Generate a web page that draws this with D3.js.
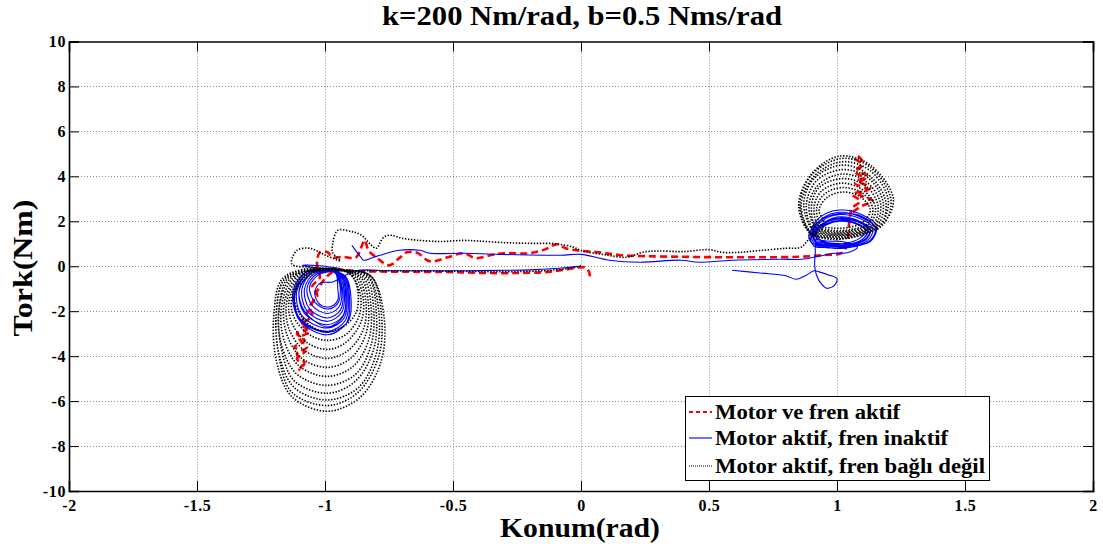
<!DOCTYPE html>
<html><head><meta charset="utf-8">
<script src="https://cdn.jsdelivr.net/npm/d3@7"></script>
<style>body{margin:0;background:#fff}svg{display:block}text{font-family:"Liberation Serif","Times New Roman",serif;font-weight:bold}</style>
</head><body>
<script>
const titleText = "k=200 Nm/rad, b=0.5 Nms/rad";
const xLabel = "Konum(rad)";
const yLabel = "Tork(Nm)";
const xTicks = [-2,-1.5,-1,-0.5,0,0.5,1,1.5,2];
const yTicks = [-10,-8,-6,-4,-2,0,2,4,6,8,10];
const legendLabels = ["Motor ve fren aktif","Motor aktif, fren inaktif","Motor aktif, fren bağlı değil"];

// Series 1: Motor ve fren aktif (red dashed)
const redPath = [
[0.035,-0.45],[0.03,-0.22],[0.015,-0.05],[-0.02,-0.08],[-0.08,-0.18],[-0.15,-0.27],[-0.25,-0.3],[-0.38,-0.3],[-0.5,-0.26],[-0.62,-0.25],[-0.75,-0.24],[-0.88,-0.22],[-0.96,-0.2],
[-1.0,-0.55],[-1.03,-1.1],[-1.06,-1.9],[-1.09,-2.5],[-1.07,-2.8],[-1.11,-3.0],[-1.08,-3.3],[-1.12,-3.6],[-1.08,-3.8],[-1.11,-4.1],[-1.09,-4.4],[-1.1,-4.6],[-1.08,-4.3],[-1.11,-3.9],[-1.07,-3.6],[-1.1,-3.2],[-1.06,-2.9],[-1.09,-2.6],[-1.05,-2.2],[-1.06,-1.8],[-1.03,-1.3],[-1.05,-0.9],[-1.02,-0.5],[-1.03,-0.1],
[-1.03,0.3],[-1.02,0.62],[-0.99,0.62],[-0.97,0.4],[-0.93,0.42],[-0.88,0.38],[-0.86,0.8],[-0.845,1.16],[-0.83,0.7],[-0.8,0.4],[-0.75,0.04],[-0.71,0.36],[-0.68,0.62],[-0.64,0.6],[-0.59,0.22],[-0.52,0.4],[-0.46,0.58],[-0.41,0.36],[-0.35,0.5],[-0.3,0.58],[-0.2,0.58],[-0.14,0.75],[-0.094,0.98],[-0.06,0.8],[-0.01,0.7],[0.07,0.62],[0.15,0.5],[0.25,0.45],[0.4,0.42],[0.55,0.4],[0.7,0.4],[0.85,0.42],[0.95,0.5],[1.02,0.6],
[1.04,1.0],[1.045,1.6],[1.05,2.2],[1.06,2.6],[1.09,2.9],[1.06,3.2],[1.12,3.4],[1.07,3.7],[1.11,3.9],[1.07,4.2],[1.1,4.5],[1.07,4.8],[1.08,4.9],[1.1,4.6],[1.08,4.3],[1.12,4.0],[1.08,3.8],[1.13,3.5],[1.09,3.2],[1.14,2.9],[1.1,2.7],[1.06,2.4]
];

// Series 2: Motor aktif, fren inaktif (blue solid)
const bluePath = [
[0.0,0.0],[-0.05,-0.05],[-0.1,-0.1],[-0.2,-0.16],[-0.3,-0.18],[-0.45,-0.2],[-0.6,-0.2],[-0.75,-0.2],[-0.88,-0.2],
[-0.97,-0.7],[-1.02,-0.75],[-1.04,-1.2],[-1.02,-1.7],[-0.98,-1.8],[-0.95,-1.5],[-0.95,-1.0],
[-0.96,-0.3],[-1.02,-0.35],[-1.06,-0.9],[-1.04,-1.6],[-0.99,-1.9],[-0.95,-1.65],[-0.94,-1.0],[-0.95,-0.5],
[-0.96,-0.28],[-1.03,-0.33],[-1.07,-0.95],[-1.05,-1.75],[-0.99,-2.1],[-0.945,-1.8],[-0.935,-1.05],[-0.95,-0.5],
[-0.96,-0.27],[-1.04,-0.32],[-1.08,-1.0],[-1.06,-1.9],[-0.99,-2.3],[-0.94,-1.95],[-0.93,-1.1],[-0.945,-0.5],
[-0.96,-0.26],[-1.05,-0.3],[-1.09,-1.0],[-1.07,-2.0],[-0.99,-2.45],[-0.935,-2.05],[-0.925,-1.1],[-0.94,-0.5],
[-0.96,-0.25],[-1.05,-0.28],[-1.1,-1.05],[-1.08,-2.1],[-0.99,-2.6],[-0.93,-2.2],[-0.92,-1.15],[-0.935,-0.5],
[-0.96,-0.24],[-1.06,-0.27],[-1.11,-1.1],[-1.09,-2.2],[-0.99,-2.75],[-0.925,-2.3],[-0.915,-1.2],[-0.93,-0.5],
[-0.96,-0.23],[-1.06,-0.26],[-1.115,-1.1],[-1.1,-2.3],[-0.99,-2.9],[-0.92,-2.4],[-0.91,-1.2],[-0.925,-0.5],
[-0.96,-0.22],[-1.07,-0.25],[-1.12,-1.15],[-1.1,-2.4],[-0.99,-3.05],[-0.915,-2.5],[-0.905,-1.25],[-0.92,-0.5],
[-0.96,-0.2],[-1.07,-0.22],[-1.125,-1.1],[-1.1,-2.35],[-0.99,-2.95],[-0.91,-2.45],[-0.9,-1.2],[-0.92,-0.45],
[-0.96,-0.24],[-1.05,-0.3],[-1.1,-1.0],[-1.08,-2.0],[-0.99,-2.7],[-0.93,-2.25],[-0.92,-1.1],[-0.935,-0.45],
[-0.95,-0.2],[-1.02,-0.1],[-1.09,0.04],[-1.02,0.02],[-0.94,-0.1],
null,
[-0.895,0.93],[-0.86,0.4],[-0.85,0.27],[-0.81,0.4],[-0.785,0.49],[-0.71,0.71],[-0.63,0.71],[-0.59,0.58],[-0.46,0.58],[-0.32,0.53],[-0.08,0.49],[0.0,0.53],[0.11,0.27],[0.23,0.18],[0.39,0.27],[0.46,0.18],[0.59,0.27],[0.78,0.31],[0.86,0.31],[0.93,0.45],[0.99,0.58],[1.04,0.6],[1.08,0.85],
[1.02,1.1],[0.96,1.12],[0.93,1.2],[0.92,1.5],[0.96,1.85],[1.01,2.0],[1.07,1.9],[1.11,1.6],[1.09,1.25],
[1.02,1.0],[0.96,1.02],[0.93,1.1],[0.915,1.45],[0.95,1.9],[1.01,2.1],[1.08,1.98],[1.12,1.65],[1.1,1.2],
[1.03,0.95],[0.96,0.97],[0.92,1.05],[0.91,1.45],[0.95,1.95],[1.01,2.2],[1.08,2.05],[1.13,1.65],[1.11,1.2],
[1.03,0.9],[0.96,0.92],[0.92,1.0],[0.905,1.45],[0.94,2.0],[1.01,2.3],[1.09,2.12],[1.14,1.7],[1.12,1.15],
[1.03,0.85],[0.96,0.88],[0.915,0.95],[0.9,1.45],[0.94,2.1],[1.01,2.4],[1.09,2.2],[1.15,1.75],[1.13,1.15],
[1.03,0.8],[0.96,0.83],[0.91,0.9],[0.895,1.45],[0.93,2.15],[1.01,2.5],[1.1,2.28],[1.155,1.8],[1.13,1.1],
[1.03,0.9],[0.96,0.95],[0.92,1.1],[0.91,1.5],[0.95,1.95],[1.01,2.15],[1.08,2.0],[1.13,1.6],[1.11,1.15],
[1.03,0.95],[0.96,1.0],[0.93,1.2],[0.92,1.6],[0.96,1.9],[1.01,2.05],[1.07,1.95],[1.12,1.55],[1.1,1.2],
[1.03,0.88],[0.96,0.9],[0.9,1.05],[0.89,1.4],[0.93,2.0],[1.01,2.35],[1.1,2.2],[1.15,1.7],[1.13,1.1],
[1.03,1.0],[0.96,1.05],[0.92,1.2],[0.915,0.6],[0.913,0.0],[0.92,-0.4],[0.94,-0.8],[0.96,-0.98],[0.99,-0.85],[1.0,-0.55],[0.97,-0.4],[0.93,-0.25],[0.91,-0.2],[0.88,-0.4],[0.84,-0.58],[0.8,-0.42],[0.7,-0.3],[0.59,-0.18]
];

// Series 3: Motor aktif, fren bağlı değil (black dotted)
const blackPath = [
[0.0,0.02],[-0.05,-0.1],[-0.15,-0.2],[-0.3,-0.24],[-0.5,-0.22],[-0.7,-0.2],[-0.85,-0.2],
[-0.93,-0.2],[-1.03,-0.22],[-1.08,-0.6],[-1.12,-1.3],[-1.1,-2.1],[-1.05,-2.7],[-0.99,-2.9],[-0.93,-2.7],[-0.88,-2.1],[-0.87,-1.3],[-0.89,-0.5],
[-0.93,-0.2],[-1.04,-0.22],[-1.09,-0.6],[-1.13,-1.4],[-1.12,-2.3],[-1.06,-3.05],[-0.99,-3.3],[-0.92,-3.05],[-0.87,-2.3],[-0.86,-1.4],[-0.89,-0.5],
[-0.93,-0.2],[-1.05,-0.22],[-1.1,-0.6],[-1.14,-1.5],[-1.13,-2.5],[-1.07,-3.4],[-0.99,-3.7],[-0.92,-3.4],[-0.86,-2.5],[-0.85,-1.5],[-0.88,-0.5],
[-0.93,-0.2],[-1.05,-0.22],[-1.11,-0.6],[-1.15,-1.6],[-1.14,-2.8],[-1.08,-3.75],[-0.99,-4.1],[-0.91,-3.75],[-0.85,-2.8],[-0.84,-1.6],[-0.87,-0.5],
[-0.93,-0.2],[-1.06,-0.2],[-1.12,-0.6],[-1.16,-1.7],[-1.15,-3.0],[-1.09,-4.1],[-0.99,-4.5],[-0.9,-4.1],[-0.84,-3.0],[-0.83,-1.7],[-0.86,-0.5],
[-0.93,-0.2],[-1.06,-0.2],[-1.13,-0.6],[-1.17,-1.8],[-1.16,-3.3],[-1.1,-4.45],[-0.99,-4.9],[-0.89,-4.45],[-0.83,-3.3],[-0.82,-1.8],[-0.85,-0.5],
[-0.93,-0.18],[-1.07,-0.2],[-1.14,-0.6],[-1.18,-1.9],[-1.17,-3.5],[-1.11,-4.8],[-0.99,-5.3],[-0.88,-4.8],[-0.82,-3.5],[-0.81,-1.9],[-0.84,-0.5],
[-0.93,-0.18],[-1.07,-0.18],[-1.15,-0.6],[-1.18,-2.0],[-1.17,-3.7],[-1.12,-5.1],[-0.99,-5.65],[-0.88,-5.1],[-0.81,-3.7],[-0.8,-2.0],[-0.83,-0.5],
[-0.93,-0.16],[-1.08,-0.18],[-1.16,-0.6],[-1.19,-2.0],[-1.18,-3.9],[-1.12,-5.4],[-0.99,-5.95],[-0.87,-5.4],[-0.8,-3.9],[-0.79,-2.0],[-0.83,-0.45],
[-0.93,-0.16],[-1.08,-0.16],[-1.16,-0.6],[-1.19,-2.1],[-1.18,-4.0],[-1.13,-5.6],[-0.99,-6.2],[-0.87,-5.6],[-0.79,-4.0],[-0.78,-2.1],[-0.82,-0.45],
[-0.93,-0.15],[-1.09,-0.15],[-1.17,-0.6],[-1.2,-2.2],[-1.19,-4.2],[-1.13,-5.8],[-0.99,-6.45],[-0.86,-5.8],[-0.78,-4.2],[-0.77,-2.2],[-0.82,-0.45],
[-0.93,-0.15],[-1.05,-0.05],[-1.13,0.1],[-1.11,0.7],[-1.06,0.8],[-1.0,0.5],[-0.94,0.25],[-0.97,0.6],[-0.97,1.0],[-0.95,1.6],[-0.9,1.55],[-0.86,1.4],[-0.82,0.95],[-0.8,0.8],[-0.77,1.3],[-0.74,1.38],[-0.7,1.25],[-0.64,1.16],[-0.55,1.1],[-0.46,1.15],[-0.4,1.12],[-0.3,1.05],[-0.2,1.02],[-0.1,1.0],[-0.03,0.85],[0.0,0.7],[0.1,0.5],[0.18,0.4],[0.24,0.62],[0.3,0.68],[0.4,0.65],[0.5,0.74],[0.55,0.62],[0.62,0.62],[0.7,0.7],[0.8,0.8],[0.86,0.85],[0.89,1.2],
[0.95,1.85],[0.93,2.5],[0.96,3.05],[1.02,3.3],[1.09,3.1],[1.13,2.5],[1.1,1.95],[1.04,1.72],[0.98,1.7],
[0.94,1.8],[0.92,2.55],[0.95,3.2],[1.02,3.5],[1.1,3.25],[1.14,2.55],[1.12,1.9],[1.05,1.63],[0.98,1.6],
[0.93,1.75],[0.91,2.6],[0.94,3.35],[1.02,3.7],[1.1,3.4],[1.15,2.65],[1.13,1.9],[1.05,1.58],[0.98,1.55],
[0.92,1.7],[0.9,2.65],[0.93,3.5],[1.02,3.9],[1.11,3.6],[1.16,2.7],[1.14,1.85],[1.05,1.53],[0.97,1.5],
[0.92,1.65],[0.89,2.7],[0.93,3.65],[1.02,4.1],[1.11,3.8],[1.17,2.8],[1.15,1.85],[1.06,1.48],[0.97,1.45],
[0.91,1.6],[0.88,2.7],[0.92,3.8],[1.02,4.3],[1.12,3.95],[1.18,2.85],[1.16,1.85],[1.06,1.43],[0.97,1.4],
[0.91,1.55],[0.87,2.75],[0.91,3.9],[1.02,4.5],[1.12,4.1],[1.19,2.9],[1.17,1.85],[1.06,1.38],[0.97,1.35],
[0.9,1.5],[0.86,2.75],[0.91,4.0],[1.02,4.65],[1.13,4.25],[1.2,2.95],[1.17,1.85],[1.06,1.33],[0.97,1.3],
[0.9,1.45],[0.855,2.75],[0.9,4.05],[1.02,4.8],[1.13,4.4],[1.21,3.0],[1.18,1.85],[1.06,1.28],[0.97,1.25],
[0.9,1.4],[0.85,2.7],[0.9,4.1],[1.01,4.9],[1.13,4.5],[1.22,3.0],[1.18,1.9],[1.06,1.3],[0.97,1.2],[0.92,1.35]
];

const W = 1103, H = 552;
const svg = d3.select("body").append("svg").attr("width", W).attr("height", H);
const x = d3.scaleLinear().domain([-2, 2]).range([69, 1093]);
const y = d3.scaleLinear().domain([-10, 10]).range([491, 41.5]);

// grid
const grid = svg.append("g").attr("stroke", "#8c8c8c").attr("stroke-width", 1).attr("stroke-dasharray", "1,2");
grid.selectAll(".gx").data(xTicks.slice(1, -1)).join("line")
  .attr("x1", d => Math.round(x(d)) + 0.5).attr("x2", d => Math.round(x(d)) + 0.5)
  .attr("y1", y(10)).attr("y2", y(-10));
grid.selectAll(".gy").data(yTicks.slice(1, -1)).join("line")
  .attr("y1", d => Math.round(y(d)) + 0.5).attr("y2", d => Math.round(y(d)) + 0.5)
  .attr("x1", x(-2)).attr("x2", x(2));

svg.append("clipPath").attr("id", "clip").append("rect")
  .attr("x", x(-2)).attr("y", y(10)).attr("width", x(2) - x(-2)).attr("height", y(-10) - y(10));

const line = d3.line().defined(d => d !== null).x(d => x(d[0])).y(d => y(d[1])).curve(d3.curveCatmullRom.alpha(0.5));
const plot = svg.append("g").attr("clip-path", "url(#clip)");
plot.append("path").datum(redPath).attr("d", line).attr("fill", "none")
  .attr("stroke", "#ff0000").attr("stroke-width", 2.6).attr("stroke-dasharray", "7,4");
plot.append("path").datum(bluePath).attr("d", line).attr("fill", "none")
  .attr("stroke", "#0000ff").attr("stroke-width", 1.1);
plot.append("path").datum(blackPath).attr("d", line).attr("fill", "none")
  .attr("stroke", "#000").attr("stroke-width", 1.6).attr("stroke-dasharray", "1.4,1.6");

// axes
const fmt = d => d3.format("")(d).replace("−", "-");
const axB = d3.axisBottom(x).tickValues(xTicks).tickSize(-10).tickPadding(9).tickFormat(fmt);
const axT = d3.axisTop(x).tickValues(xTicks).tickSize(-10).tickFormat("");
const axL = d3.axisLeft(y).tickValues(yTicks).tickSize(-10).tickPadding(3).tickFormat(fmt);
const axR = d3.axisRight(y).tickValues(yTicks).tickSize(-10).tickFormat("");
function style(g) {
  g.select(".domain").attr("stroke", "#000").attr("stroke-width", 1.6);
  g.selectAll(".tick line").attr("stroke", "#000").attr("stroke-width", 1);
  g.selectAll("text").attr("font-size", 16).attr("font-weight", "bold").attr("fill", "#000")
    .attr("letter-spacing", "0.6px").attr("font-family", "Liberation Serif, serif");
}
svg.append("g").attr("transform", `translate(0,${y(-10)})`).call(axB).call(style);
svg.append("g").attr("transform", `translate(0,${y(10)})`).call(axT).call(style);
svg.append("g").attr("transform", `translate(${x(-2)},0)`).call(axL).call(style);
svg.append("g").attr("transform", `translate(${x(2)},0)`).call(axR).call(style);

// title and labels
svg.append("text").attr("x", 582).attr("y", 25).attr("text-anchor", "middle")
  .attr("font-size", 27).attr("textLength", 400).attr("lengthAdjust", "spacingAndGlyphs").text(titleText);
svg.append("text").attr("x", 580).attr("y", 537).attr("text-anchor", "middle")
  .attr("font-size", 27).attr("textLength", 160).attr("lengthAdjust", "spacingAndGlyphs").text(xLabel);
svg.append("text").attr("transform", `translate(32,268) rotate(-90)`).attr("text-anchor", "middle")
  .attr("font-size", 27).attr("textLength", 137).attr("lengthAdjust", "spacingAndGlyphs").text(yLabel);

// legend
const lg = svg.append("g");
lg.append("rect").attr("x", 685.5).attr("y", 396.5).attr("width", 304).attr("height", 84)
  .attr("fill", "#fff").attr("stroke", "#000").attr("stroke-width", 1);
const legStyles = [
  {stroke: "#ff0000", w: 2.2, dash: "4,3"},
  {stroke: "#0000ff", w: 1.1, dash: null},
  {stroke: "#000", w: 1.1, dash: "1,1"}
];
const rowY = [412, 438, 466];
const legLen = [185, 233, 270];
legendLabels.forEach((t, i) => {
  lg.append("line").attr("x1", 689).attr("x2", 712).attr("y1", rowY[i]).attr("y2", rowY[i])
    .attr("stroke", legStyles[i].stroke).attr("stroke-width", legStyles[i].w)
    .attr("stroke-dasharray", legStyles[i].dash);
  lg.append("text").attr("x", 715).attr("y", rowY[i] + 7).attr("font-size", 20)
    .attr("textLength", legLen[i]).attr("lengthAdjust", "spacingAndGlyphs").text(t);
});
</script>
</body></html>
